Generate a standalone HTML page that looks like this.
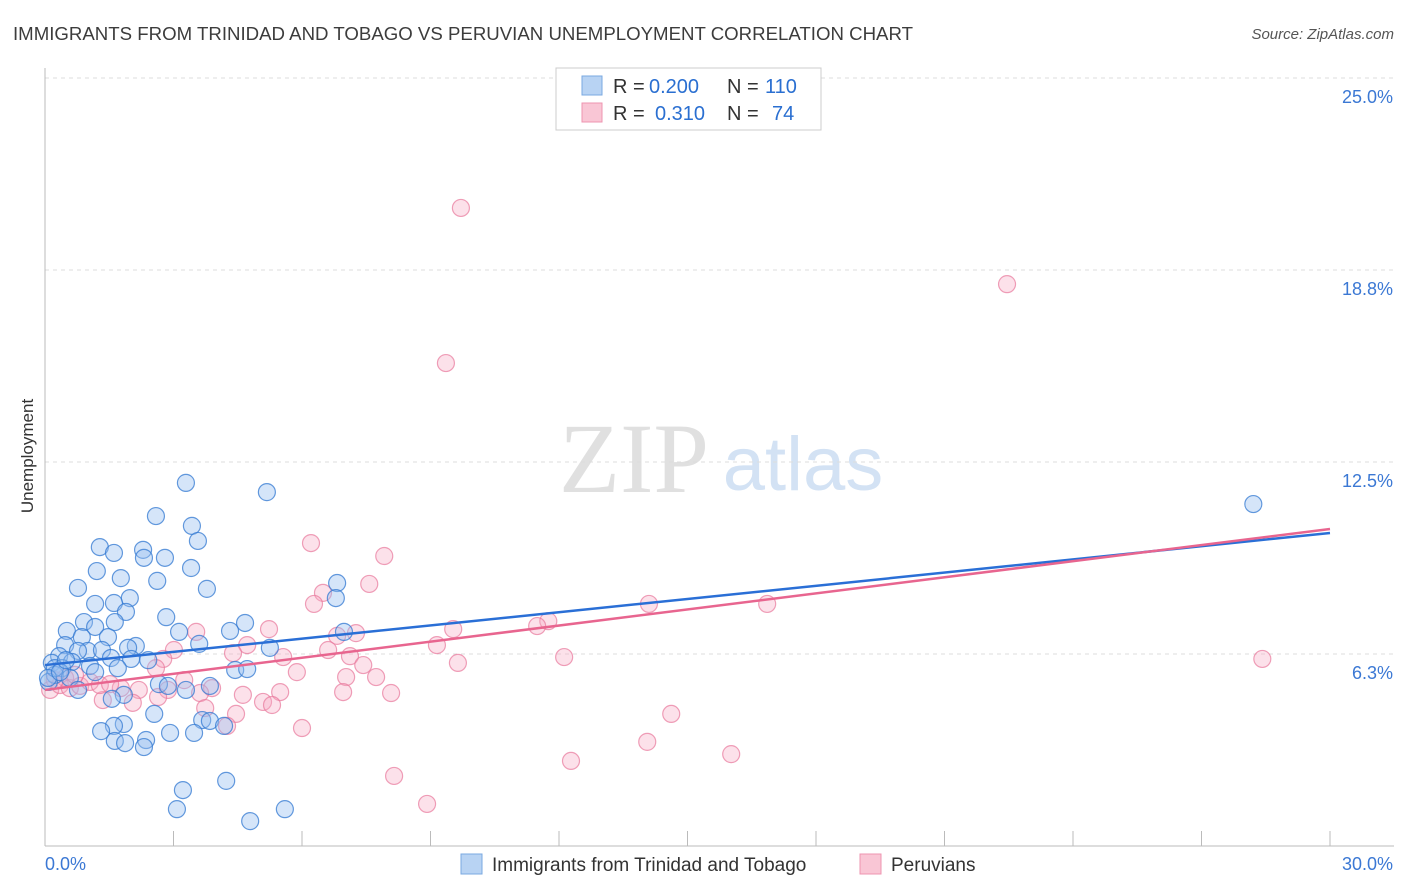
<!DOCTYPE html>
<html><head><meta charset="utf-8"><style>
body{margin:0;background:#fff;font-family:"Liberation Sans",sans-serif;}
svg{display:block}
</style></head><body>
<svg id="chart" width="1406" height="892" xmlns="http://www.w3.org/2000/svg" font-family="Liberation Sans, sans-serif">
<text x="13" y="40" font-size="18" fill="#3c3c3c" textLength="900" lengthAdjust="spacingAndGlyphs">IMMIGRANTS FROM TRINIDAD AND TOBAGO VS PERUVIAN UNEMPLOYMENT CORRELATION CHART</text>
<text x="1394" y="39" font-size="15" fill="#555" font-style="italic" text-anchor="end">Source: ZipAtlas.com</text>
<text transform="translate(33,456) rotate(-90)" font-size="17" fill="#333" text-anchor="middle">Unemployment</text>
<g>
<text x="634" y="492" font-size="100" fill="#e0e0e0" font-family="Liberation Serif, serif" text-anchor="middle">ZIP</text>
<text x="803" y="490" font-size="76" fill="#d3e2f4" text-anchor="middle">atlas</text>
</g>
<g id="grid"></g><g id="axes"></g><g id="pts"></g><g id="trend"></g>
<g>
<rect x="556" y="68" width="265" height="62" fill="#fff" stroke="#ccc"/>
<rect x="582" y="76" width="20" height="19" fill="#b8d3f3" stroke="#7aa8e0"/>
<rect x="582" y="103" width="20" height="19" fill="#f9c6d5" stroke="#ee94b0"/>
<text x="613" y="93" font-size="20" fill="#333">R =</text>
<text x="649" y="93" font-size="20" fill="#2a6fd1">0.200</text>
<text x="727" y="93" font-size="20" fill="#333">N =</text>
<text x="765" y="93" font-size="20" fill="#2a6fd1">110</text>
<text x="613" y="120" font-size="20" fill="#333">R =</text>
<text x="655" y="120" font-size="20" fill="#2a6fd1">0.310</text>
<text x="727" y="120" font-size="20" fill="#333">N =</text>
<text x="772" y="120" font-size="20" fill="#2a6fd1">74</text>
</g>
<g>
<rect x="461" y="854" width="21" height="20" fill="#b8d3f3" stroke="#7aa8e0"/>
<text x="492" y="871" font-size="19" fill="#333">Immigrants from Trinidad and Tobago</text>
<rect x="860" y="854" width="21" height="20" fill="#f9c6d5" stroke="#ee94b0"/>
<text x="891" y="871" font-size="19" fill="#333">Peruvians</text>
</g>
</svg>
<script>
const xTicks=[0,30];
const yTicks=[6.3,12.5,18.8,25.0];
const yGrid=[6.25,12.5,18.75,25];
const blueX=[3.29,5.18,2.59,3.43,3.57,1.28,1.61,2.29,2.80,2.31,1.21,3.41,1.77,2.62,0.77,3.78,6.82,6.79,1.98,1.17,1.61,1.89,2.83,0.91,1.63,4.67,1.17,0.51,3.13,4.32,1.47,0.86,6.98,3.60,5.25,2.12,1.94,0.47,1.00,1.33,0.77,1.54,2.01,2.41,0.33,0.63,1.05,4.44,4.72,0.16,0.40,1.70,1.17,0.23,0.58,0.09,2.66,2.87,3.85,3.29,0.77,1.84,1.56,2.55,1.84,1.61,1.31,3.67,3.85,4.18,2.92,3.48,2.36,1.63,1.87,2.31,4.23,3.22,3.08,5.60,4.79,28.21,0.23,0.07,0.35,0.49];
const blueY=[11.82,11.52,10.74,10.42,9.93,9.73,9.54,9.64,9.38,9.38,8.95,9.05,8.72,8.63,8.40,8.37,8.56,8.07,8.07,7.88,7.91,7.62,7.45,7.29,7.29,7.26,7.13,7.00,6.97,7.00,6.80,6.80,6.97,6.58,6.45,6.51,6.45,6.54,6.35,6.38,6.35,6.12,6.09,6.05,6.18,5.99,5.86,5.73,5.76,5.96,5.79,5.79,5.66,5.57,5.47,5.34,5.27,5.21,5.21,5.08,5.08,4.92,4.79,4.30,3.97,3.91,3.74,4.10,4.07,3.91,3.68,3.68,3.45,3.42,3.35,3.22,2.12,1.82,1.20,1.20,0.81,11.13,5.79,5.47,5.66,6.05];
const pinkX=[9.71,22.46,9.36,6.21,7.92,7.57,6.49,6.28,14.10,16.86,11.75,11.49,9.53,5.23,7.26,6.82,3.53,4.72,9.15,6.61,3.01,5.56,7.12,12.12,28.42,2.76,9.64,7.43,2.59,5.88,4.39,7.03,7.73,3.25,3.90,1.77,2.19,2.87,3.62,5.49,4.62,6.96,8.08,2.64,1.35,2.05,5.09,5.30,3.74,4.46,14.62,4.25,6.00,14.06,16.02,12.28,8.15,8.92,0.12,0.35,0.58,0.82,1.05,0.47,1.28,0.23,1.52,0.70];
const pinkY=[20.77,18.29,15.72,9.86,9.44,8.53,8.24,7.88,7.88,7.88,7.32,7.16,7.06,7.06,6.93,6.84,6.97,6.54,6.54,6.38,6.38,6.15,6.18,6.15,6.09,6.09,5.96,5.89,5.79,5.66,6.28,5.50,5.50,5.40,5.14,5.14,5.08,5.08,4.98,5.01,4.92,5.01,4.98,4.85,4.75,4.66,4.69,4.59,4.49,4.30,4.30,3.91,3.84,3.39,2.99,2.77,2.28,1.37,5.08,5.24,5.14,5.21,5.34,5.47,5.24,5.40,5.27,5.57];
const blueTrend=[5.89,10.19];
const pinkTrend=[5.08,10.32];
const NS='http://www.w3.org/2000/svg';
const X=v=>45+v/30*1285;
const Y=v=>846-v*30.72;
function mk(tag,attrs,parent){const e=document.createElementNS(NS,tag);for(const k in attrs)e.setAttribute(k,attrs[k]);parent.appendChild(e);return e;}
const grid=document.getElementById('grid'),axes=document.getElementById('axes'),pts=document.getElementById('pts'),tr=document.getElementById('trend');
yGrid.forEach((g,i)=>{
 const l=mk('line',{x1:45,x2:1394,y1:Y(g),y2:Y(g),stroke:'#ddd','stroke-dasharray':'4,4'},grid);
 
 
 const t=mk('text',{x:1393,y:Y(g)+25,'font-size':18,fill:'#3b78d4','text-anchor':'end'},axes);
 t.textContent=yTicks[i].toFixed(1)+'%';
 
 
});
const ax=mk('line',{x1:45,x2:45,y1:68,y2:846,stroke:'#bbb'},axes);


const bx=mk('line',{x1:45,x2:1394,y1:846,y2:846,stroke:'#bbb'},axes);


for(let i=1;i<=10;i++){const xx=X(i*3);const tk=mk('line',{x1:xx,x2:xx,y1:831,y2:846,stroke:'#bbb'},axes);
 
 }
xTicks.forEach((v,i)=>{const t=mk('text',{x:i?1393:45,y:870,'font-size':18,fill:'#3b78d4','text-anchor':i?'end':'start'},axes);
 t.textContent=v.toFixed(1)+'%';
 
 });
function dots(xs,ys,fill,stroke,name){xs.forEach((v,i)=>{const c=mk('circle',{cx:X(v),cy:Y(ys[i]),r:8.5,fill:fill,stroke:stroke,'stroke-width':1.2},pts);
 
 });}
dots(pinkX,pinkY,'rgba(246,170,195,0.35)','rgba(232,120,155,0.7)','peruvian-point');
dots(blueX,blueY,'rgba(150,190,240,0.4)','rgba(50,120,210,0.75)','trinidad-point');
const bl=mk('line',{x1:X(0),x2:X(30),y1:Y(blueTrend[0]),y2:Y(blueTrend[1]),stroke:'#2a6fd6','stroke-width':2.5},tr);


const pl=mk('line',{x1:X(0),x2:X(30),y1:Y(pinkTrend[0]),y2:Y(pinkTrend[1]),stroke:'#e8658f','stroke-width':2.5},tr);


</script>
</body></html>
